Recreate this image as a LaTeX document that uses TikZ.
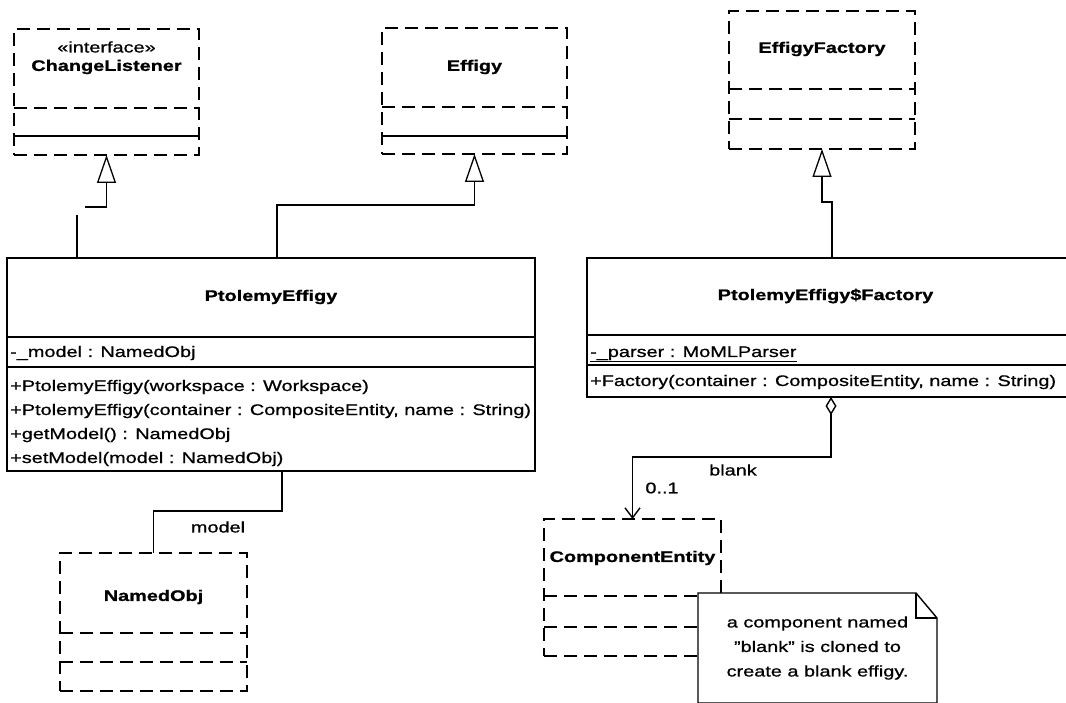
\documentclass[tikz,border=0pt]{standalone}
\usepackage{fontspec}
\setmainfont{Liberation Sans}[FakeStretch=1.3, UprightFeatures={FakeBold=0.8}, BoldFeatures={FakeBold=1.0}]
\usepackage{tikz}
\usetikzlibrary{arrows.meta, calc, positioning}
\newcommand{\umltxt}{\fontsize{15.3}{24.5}\selectfont}
\tikzset{
  % solid class box
  cbox/.style={draw, line width=1.8pt, inner sep=0pt, outer sep=0pt, anchor=north west},
  % dashed class box (referenced class)
  gbox/.style={cbox, line width=2.6pt, dash pattern=on 13pt off 7pt},
  gline/.style={line width=2.6pt, dash pattern=on 13pt off 7pt},
  cline/.style={line width=1.8pt},
  % texts
  cname/.style={font=\umltxt\bfseries, inner sep=0pt},
  stereo/.style={font=\umltxt, inner sep=0pt},
  member/.style={font=\umltxt, anchor=base west, inner sep=0pt},
  elabel/.style={font=\umltxt, inner sep=0pt},
  % connectors
  link/.style={line width=1.1pt},
  inherit/.style={link, -{Triangle[open, length=28pt, width=19pt, line width=1.3pt]}},
  aggr/.style={link, {Diamond[open, length=18pt, width=11pt, line width=1.4pt]}-{Straight Barb[length=10pt, width=15pt, line width=1.4pt]}},
  % note
  notebox/.style={fill=white, inner sep=0pt, outer sep=0pt, anchor=north west, align=center, font=\umltxt},
}
\begin{document}
\begin{tikzpicture}[x=1pt, y=-1pt]
  \useasboundingbox (0,0) rectangle (1066,703);

  %% ChangeListener
  \node[gbox, minimum width=185pt, minimum height=126pt] (cl) at (14,29) {};
  \node[stereo] at ($(cl.north)+(0,18)$) {«interface»};
  \node[cname]  at ($(cl.north)+(0,38)$) {ChangeListener};
  \draw[gline] ([yshift=-79pt]cl.north west) -- ([yshift=-79pt]cl.north east);
  \draw[cline] ([yshift=-107pt]cl.north west) -- ([yshift=-107pt]cl.north east);

  %% Effigy
  \node[gbox, minimum width=185pt, minimum height=126pt] (ef) at (382,28) {};
  \node[cname] at ($(ef.north)+(0,39)$) {Effigy};
  \draw[gline] ([yshift=-79pt]ef.north west) -- ([yshift=-79pt]ef.north east);
  \draw[cline] ([yshift=-108pt]ef.north west) -- ([yshift=-108pt]ef.north east);

  %% EffigyFactory
  \node[gbox, minimum width=186pt, minimum height=138pt] (ff) at (729,11) {};
  \node[cname] at ($(ff.north)+(0,38)$) {EffigyFactory};
  \foreach \d in {78,108}
    \draw[gline] ([yshift=-\d pt]ff.north west) -- ([yshift=-\d pt]ff.north east);

  %% PtolemyEffigy
  \node[cbox, minimum width=528pt, minimum height=213pt] (pe) at (7,258) {};
  \node[cname] at ($(pe.north)+(0,39)$) {PtolemyEffigy};
  \foreach \d in {79,109}
    \draw[cline] ([yshift=-\d pt]pe.north west) -- ([yshift=-\d pt]pe.north east);
  \node[member] at ($(pe.north west)+(3,99)$) {-\_model : NamedObj};
  \foreach \d/\op in {133/{+PtolemyEffigy(workspace : Workspace)},
                      157/{+PtolemyEffigy(container : CompositeEntity, name : String)},
                      181/{+getModel() : NamedObj},
                      205/{+setModel(model : NamedObj)}}
    \node[member] at ($(pe.north west)+(3,\d)$) {\op};

  %% PtolemyEffigy$Factory
  \node[cbox, minimum width=483pt, minimum height=139pt] (pf) at (587,258) {};
  \node[cname] at ($(pf.north)+(-3,38)$) {PtolemyEffigy\$Factory};
  \foreach \d in {77,107}
    \draw[cline] ([yshift=-\d pt]pf.north west) -- ([yshift=-\d pt]pf.north east);
  \node[member] at ($(pf.north west)+(3,99)$) {\underline{-\_parser : MoMLParser}};
  \node[member] at ($(pf.north west)+(3,128)$) {+Factory(container : CompositeEntity, name : String)};

  %% NamedObj
  \node[gbox, minimum width=187pt, minimum height=138pt] (no) at (60,553) {};
  \node[cname] at ($(no.north)+(0,44)$) {NamedObj};
  \foreach \d in {80,109}
    \draw[gline] ([yshift=-\d pt]no.north west) -- ([yshift=-\d pt]no.north east);

  %% ComponentEntity
  \node[gbox, minimum width=177pt, minimum height=137pt] (ce) at (544,519) {};
  \node[cname] at ($(ce.north)+(0,39)$) {ComponentEntity};
  \foreach \d in {77,108}
    \draw[gline] ([yshift=-\d pt]ce.north west) -- ([yshift=-\d pt]ce.north east);

  %% note
  \node[notebox, minimum width=239pt, minimum height=110pt] (nt) at (698,593)
    {a component named\\\symbol{34}blank\symbol{34} is cloned to\\create a blank effigy.};
  \draw[line width=1.4pt] (nt.south west) -- (nt.north west) -- ([xshift=-21pt]nt.north east)
    -- ([yshift=-25pt]nt.north east) -- (nt.south east) -- cycle;
  \draw[line width=1.1pt] ([xshift=-21pt]nt.north east) |- ([yshift=-25pt]nt.north east);

  %% generalizations
  \coordinate (clstub) at (77,215);
  \coordinate (clbend) at (85,207);
  \draw[link] (pe.north -| clstub) -- (clstub);
  \draw[inherit] (clbend) -| (cl.south);
  \coordinate (efbend) at (277,205);
  \draw[inherit] (pe.north -| efbend) -- (efbend) -| (ef.south);
  \coordinate (ffbend) at (832,202);
  \draw[inherit] (pf.north -| ffbend) -- (ffbend) -| (ff.south);

  %% associations
  \coordinate (nobend) at (282,511);
  \draw[link] (pe.south -| nobend) -- (nobend) -| (no.north);
  \node[elabel] (lmodel) at (218,527) {model};
  \coordinate (cebend) at (831,457);
  \draw[aggr] (pf.south -| cebend) -- (cebend) -| (ce.north);
  \node[elabel] (lblank) at (733,470) {blank};
  \node[elabel] (lmult) at (662,488) {0..1};
\end{tikzpicture}
\end{document}
